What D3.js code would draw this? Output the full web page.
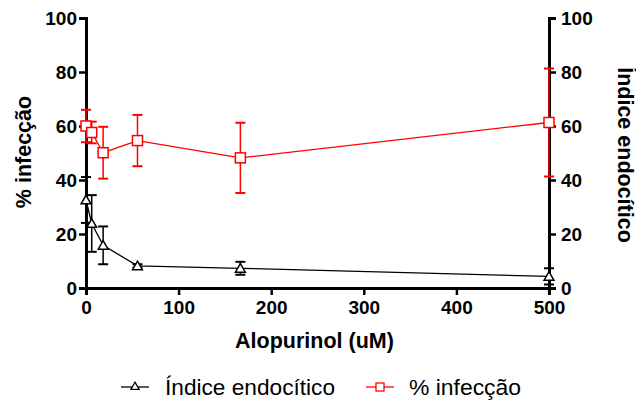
<!DOCTYPE html>
<html>
<head>
<meta charset="utf-8">
<script src="https://cdn.jsdelivr.net/npm/d3@7"></script>
<style>
  body { margin: 0; background: #fff; }
  svg text { font-family: "Liberation Sans", Arial, sans-serif; }
</style>
</head>
<body>
<svg id="chart"></svg>
<script>
// concentrations (3-fold dilutions)
var doses = [0, 6.17, 18.5, 55.6, 166.7, 500];
var infeccao = [60, 57.6, 50.1, 54.6, 48.2, 61.3];
var infeccaoErr = [6, 4, 9.6, 9.5, 13, 20];
var indice = [32.6, 23.9, 15.8, 8.2, 7.3, 4.3];
var indiceErr = [8.5, 10.5, 7, 0.6, 2.4, 3];
var xTicks = [0, 100, 200, 300, 400, 500];
var yTicks = [0, 20, 40, 60, 80, 100];

var W = 636, H = 405;
var margin = {top: 18, right: 87, bottom: 117, left: 86},
    width = W - margin.left - margin.right,
    height = H - margin.top - margin.bottom;

var root = d3.select("#chart").attr("width", W).attr("height", H);
var svg = root.append("g")
    .attr("transform", "translate(" + margin.left + "," + margin.top + ")");

var x = d3.scaleLinear().domain([0, 500]).range([0, width]);
var y = d3.scaleLinear().domain([0, 100]).range([height, 0]);

// axes
function styleAxis(g) {
    g.select(".domain").attr("stroke", "#000").attr("stroke-width", 3);
    g.selectAll(".tick line").attr("stroke", "#000").attr("stroke-width", 2.5);
    g.selectAll(".tick text").attr("font-size", "19px").attr("font-weight", "bold").attr("fill", "#000");
}
svg.append("g")
    .attr("transform", "translate(0," + height + ")")
    .call(d3.axisBottom(x).tickValues(xTicks).tickSizeOuter(0).tickSize(7).tickPadding(6))
    .call(styleAxis);
svg.append("g")
    .call(d3.axisLeft(y).tickValues(yTicks).tickSizeOuter(0).tickSize(7).tickPadding(2))
    .call(styleAxis);
svg.append("g")
    .attr("transform", "translate(" + width + ",0)")
    .call(d3.axisRight(y).tickValues(yTicks).tickSizeOuter(0).tickSize(7).tickPadding(5))
    .call(styleAxis);

// axis titles
svg.append("text")
    .attr("x", width / 2 - 3).attr("y", height + 60)
    .attr("text-anchor", "middle").attr("font-size", "21.5px").attr("font-weight", "bold")
    .text("Alopurinol (uM)");
svg.append("text")
    .attr("transform", "rotate(-90)")
    .attr("x", -height / 2 + 1).attr("y", -margin.left + 31)
    .attr("text-anchor", "middle").attr("font-size", "21.5px").attr("font-weight", "bold")
    .text("% infecção");
svg.append("text")
    .attr("transform", "translate(" + (width + 69) + "," + (height / 2 + 2) + ") rotate(90)")
    .attr("text-anchor", "middle").attr("font-size", "21.5px").attr("font-weight", "bold")
    .text("Índice endocítico");

var tri = d3.symbol().type(d3.symbolTriangle).size(42);

function drawSeries(vals, errs, color, marker) {
    var data = doses.map(function(d, i) { return {x: d, y: vals[i], e: errs[i]}; });
    var g = svg.append("g");
    var line = d3.line().x(function(d) { return x(d.x); }).y(function(d) { return y(d.y); });
    g.append("path").datum(data)
        .attr("d", line).attr("fill", "none").attr("stroke", color).attr("stroke-width", 1.3);
    var eb = g.selectAll(".err").data(data).enter().append("g");
    eb.append("line")
        .attr("x1", function(d) { return x(d.x); }).attr("x2", function(d) { return x(d.x); })
        .attr("y1", function(d) { return y(d.y + d.e); }).attr("y2", function(d) { return y(d.y - d.e); })
        .attr("stroke", color).attr("stroke-width", 1.5);
    [1, -1].forEach(function(s) {
        eb.append("line")
            .attr("x1", function(d) { return x(d.x) - 5; }).attr("x2", function(d) { return x(d.x) + 5; })
            .attr("y1", function(d) { return y(d.y + s * d.e); }).attr("y2", function(d) { return y(d.y + s * d.e); })
            .attr("stroke", color).attr("stroke-width", 2);
    });
    if (marker === "square") {
        g.selectAll(".pt").data(data).enter().append("rect")
            .attr("x", function(d) { return x(d.x) - 5; }).attr("y", function(d) { return y(d.y) - 5; })
            .attr("width", 10).attr("height", 10)
            .attr("fill", "#fff").attr("stroke", color).attr("stroke-width", 1.5);
    } else {
        g.selectAll(".pt").data(data).enter().append("path")
            .attr("d", tri)
            .attr("transform", function(d) { return "translate(" + x(d.x) + "," + (y(d.y) + 1) + ")"; })
            .attr("fill", "#fff").attr("stroke", color).attr("stroke-width", 1.5);
    }
}
drawSeries(infeccao, infeccaoErr, "#ff0000", "square");
drawSeries(indice, indiceErr, "#000", "triangle");

// legend
var lg = root.append("g").attr("transform", "translate(0,387)");
lg.append("line").attr("x1", 121).attr("x2", 149).attr("y1", 0).attr("y2", 0).attr("stroke", "#000").attr("stroke-width", 1.3);
lg.append("path").attr("d", d3.symbol().type(d3.symbolTriangle).size(30)).attr("transform", "translate(135,0)")
    .attr("fill", "#fff").attr("stroke", "#000").attr("stroke-width", 1.3);
lg.append("text").attr("x", 165).attr("y", 8).attr("font-size", "22px")
    .attr("textLength", 170).attr("lengthAdjust", "spacingAndGlyphs").text("Índice endocítico");
lg.append("line").attr("x1", 366).attr("x2", 394).attr("y1", 0).attr("y2", 0).attr("stroke", "#ff0000").attr("stroke-width", 1.3);
lg.append("rect").attr("x", 376).attr("y", -4).attr("width", 8).attr("height", 8)
    .attr("fill", "#fff").attr("stroke", "#ff0000").attr("stroke-width", 1.3);
lg.append("text").attr("x", 409).attr("y", 8).attr("font-size", "22px")
    .attr("textLength", 112).attr("lengthAdjust", "spacingAndGlyphs").text("% infecção");
</script>
</body>
</html>
